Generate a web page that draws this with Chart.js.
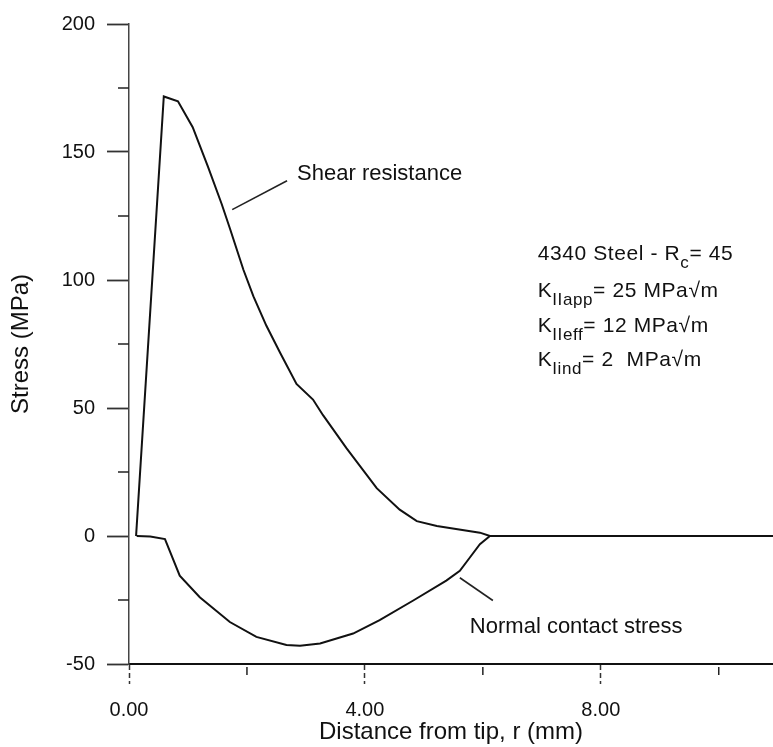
<!DOCTYPE html>
<html lang="en">
<head>
<meta charset="UTF-8">
<title>Stress vs distance from tip</title>
<script src="https://cdn.jsdelivr.net/npm/chart.js"></script>
<style>
  html, body { margin: 0; padding: 0; background: #fff; }
  .chart-container { width: 773px; height: 747px; }
</style>
</head>
<body>
<div class="chart-container"><canvas id="stressChart"></canvas></div>
<script>
// distance from tip r (mm) and stress (MPa)
const shearX = [0.12, 0.59, 0.83, 1.08, 1.34, 1.57, 1.71, 1.94, 2.11, 2.33, 2.56, 2.84, 3.12, 3.29, 3.69, 4.20, 4.59, 4.88, 5.22, 5.95, 6.12, 10.92];
const shearY = [0, 171.7, 169.8, 159.7, 144.2, 129.8, 120.2, 104.0, 93.6, 82.1, 71.7, 59.4, 53.3, 47.2, 34.2, 18.7, 10.3, 5.8, 3.9, 1.3, 0, 0];
const normalX = [0.13, 0.36, 0.61, 0.86, 1.20, 1.71, 2.16, 2.67, 2.90, 3.24, 3.80, 4.25, 4.82, 5.38, 5.61, 5.78, 5.95, 6.12];
const normalY = [0, -0.2, -1.2, -15.5, -23.9, -33.6, -39.4, -42.6, -42.9, -42.0, -38.1, -32.9, -25.2, -17.4, -13.6, -8.4, -3.2, 0];

const xMajorTicks = [0, 4, 8];
const xMinorTicks = [2, 6, 10];
const yMajorTicks = [-50, 0, 50, 100, 150, 200];
const yMinorTicks = [-25, 25, 75, 125, 175];

const FONT = '"Liberation Sans", Arial, Helvetica, sans-serif';
Chart.defaults.font.family = FONT;
Chart.defaults.color = '#111';

function toPoints(xs, ys) {
    return xs.map((x, i) => ({ x: x, y: ys[i] }));
}

// labels and leader lines, placed in data units
const annotations = {
    shearLabel: { x: 2.85, y: 139.0, text: 'Shear resistance' },
    shearLeader: [[1.75, 127.5], [2.68, 138.8]],
    normalLabel: { x: 5.78, y: -38.0, text: 'Normal contact stress' },
    normalLeader: [[5.61, -16.3], [6.17, -25.2]],
    infoX: 6.93,
    infoY: [107.8, 93.4, 79.5, 66.3]
};

const infoLines = [
    [{ t: '4340 Steel - R' }, { t: 'c', sub: true }, { t: '= 45' }],
    [{ t: 'K' }, { t: 'IIapp', sub: true }, { t: '= 25 MPa\u221Am' }],
    [{ t: 'K' }, { t: 'IIeff', sub: true }, { t: '= 12 MPa\u221Am' }],
    [{ t: 'K' }, { t: 'Iind', sub: true }, { t: '= 2  MPa\u221Am' }]
];

function drawRich(ctx, parts, x, y) {
    let cx = x;
    parts.forEach(p => {
        ctx.font = (p.sub ? '17px ' : '21px ') + FONT;
        ctx.fillText(p.t, cx, p.sub ? y + 8 : y);
        cx += ctx.measureText(p.t).width;
    });
}

const extrasPlugin = {
    id: 'extras',
    afterDraw(chart) {
        const ctx = chart.ctx;
        const xs = chart.scales.x;
        const ys = chart.scales.y;
        ctx.save();
        ctx.strokeStyle = '#222';
        ctx.lineWidth = 1.5;

        // minor tick marks
        yMinorTicks.forEach(v => {
            const py = ys.getPixelForValue(v);
            ctx.beginPath();
            ctx.moveTo(ys.right - 11, py);
            ctx.lineTo(ys.right, py);
            ctx.stroke();
        });
        xMinorTicks.forEach(v => {
            const px = xs.getPixelForValue(v);
            ctx.beginPath();
            ctx.moveTo(px, xs.top + 3);
            ctx.lineTo(px, xs.top + 11);
            ctx.stroke();
        });

        // leader lines
        ctx.lineWidth = 1.6;
        [annotations.shearLeader, annotations.normalLeader].forEach(seg => {
            ctx.beginPath();
            ctx.moveTo(xs.getPixelForValue(seg[0][0]), ys.getPixelForValue(seg[0][1]));
            ctx.lineTo(xs.getPixelForValue(seg[1][0]), ys.getPixelForValue(seg[1][1]));
            ctx.stroke();
        });

        // curve labels
        ctx.fillStyle = '#111';
        ctx.textBaseline = 'alphabetic';
        ctx.textAlign = 'left';
        ctx.font = '22px ' + FONT;
        [annotations.shearLabel, annotations.normalLabel].forEach(l => {
            ctx.fillText(l.text, xs.getPixelForValue(l.x), ys.getPixelForValue(l.y));
        });

        // material / loading info
        ctx.letterSpacing = '0.6px';
        infoLines.forEach((parts, i) => {
            drawRich(ctx, parts, xs.getPixelForValue(annotations.infoX), ys.getPixelForValue(annotations.infoY[i]));
        });
        ctx.restore();
    }
};

new Chart(document.getElementById('stressChart'), {
    type: 'scatter',
    data: {
        datasets: [{
            label: 'Shear resistance',
            data: toPoints(shearX, shearY),
            showLine: true,
            borderColor: '#111',
            borderWidth: 2,
            pointRadius: 0,
            tension: 0
        }, {
            label: 'Normal contact stress',
            data: toPoints(normalX, normalY),
            showLine: true,
            borderColor: '#111',
            borderWidth: 2,
            pointRadius: 0,
            tension: 0
        }]
    },
    options: {
        responsive: true,
        maintainAspectRatio: false,
        animation: false,
        layout: { padding: { top: 17, right: 0, left: 0, bottom: 0 } },
        plugins: {
            legend: { display: false },
            tooltip: { enabled: false }
        },
        scales: {
            x: {
                type: 'linear',
                min: 0,
                max: 10.92,
                afterBuildTicks: s => { s.ticks = xMajorTicks.map(v => ({ value: v })); },
                afterFit: s => { s.height = 83; },
                ticks: {
                    padding: 14,
                    font: { size: 20 },
                    color: '#111',
                    callback: v => Number(v).toFixed(2)
                },
                grid: {
                    display: true,
                    drawOnChartArea: false,
                    tickLength: 20,
                    tickColor: '#333',
                    tickWidth: 1.5,
                    tickBorderDash: [5, 3]
                },
                border: { display: true, color: '#111', width: 2 },
                title: {
                    display: true,
                    text: 'Distance from tip, r (mm)',
                    font: { size: 24 },
                    color: '#111',
                    padding: { top: 0, bottom: 0 }
                }
            },
            y: {
                type: 'linear',
                min: -50,
                max: 200,
                afterBuildTicks: s => { s.ticks = yMajorTicks.map(v => ({ value: v })); },
                afterFit: s => { s.width = 129; },
                ticks: {
                    padding: 12,
                    font: { size: 20 },
                    color: '#111'
                },
                grid: {
                    display: true,
                    drawOnChartArea: false,
                    tickLength: 22,
                    tickColor: '#333',
                    tickWidth: 1.8
                },
                border: { display: true, color: '#444', width: 1.5, dash: [8, 3, 2, 3] },
                title: {
                    display: true,
                    text: 'Stress (MPa)',
                    font: { size: 24 },
                    color: '#111',
                    padding: { top: 7, bottom: 0 }
                }
            }
        }
    },
    plugins: [extrasPlugin]
});
</script>
</body>
</html>
